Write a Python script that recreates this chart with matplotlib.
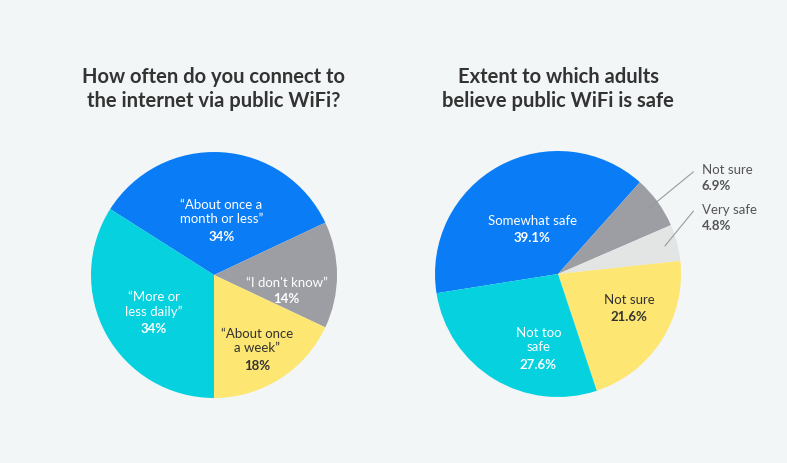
import matplotlib.pyplot as plt
import numpy as np

plt.rcParams['font.family'] = ['Lato', 'DejaVu Sans']

# left chart: how often people use public wifi
freq_labels = ['\u201cAbout once a\nmonth or less\u201d', '\u201cI don\'t know\u201d',
               '\u201cAbout once\na week\u201d', '\u201cMore or\nless daily\u201d']
freq_values = [34, 14, 18, 34]
freq_colors = ['#0a7df6', '#9c9ea4', '#fde672', '#05d1df']
freq_text = ['white', 'white', '#333333', 'white']

# right chart: how safe adults think public wifi is
safe_labels = ['Somewhat safe', 'Not sure', 'Very safe', 'Not sure', 'Not too\nsafe']
safe_values = [39.1, 6.9, 4.8, 21.6, 27.6]
safe_colors = ['#0a7df6', '#9c9ea4', '#e3e5e5', '#fde672', '#05d1df']
safe_text = ['white', None, None, '#333333', 'white']

bg = '#f3f6f7'
fig = plt.figure(figsize=(7.87, 4.64), dpi=100, facecolor=bg)

W, H = 787, 464
R = 123


def pie_axes(cx, cy):
    ax = fig.add_axes([(cx - R) / W, (H - cy - R) / H, 2 * R / W, 2 * R / H])
    ax.set_facecolor(bg)
    ax.set_xlim(-1, 1)
    ax.set_ylim(-1, 1)
    ax.axis('off')
    return ax


def draw_label(ax, name, pct, x, y, color, size=9.5):
    lines = name.count('\n') + 1
    step = 0.13
    top = y + step * lines / 2
    ax.text(x, top, name, ha='center', va='top', color=color, fontsize=size,
            linespacing=1.25)
    ax.text(x, top - step * lines - 0.005, pct, ha='center', va='top', color=color,
            fontsize=size, fontweight='bold')


# ---- left pie
ax1 = pie_axes(214, 276)
ax1.pie(freq_values, colors=freq_colors, startangle=147.6, counterclock=False,
        radius=1, center=(0, 0), frame=False)
ax1.set_xlim(-1, 1)
ax1.set_ylim(-1, 1)
freq_pos = [(0.06, 0.50), (0.59, -0.07), (0.35, -0.55), (-0.49, -0.25)]
for name, v, (x, y), c in zip(freq_labels, freq_values, freq_pos, freq_text):
    draw_label(ax1, name, f'{v}%', x, y, c)

# ---- right pie
ax2 = pie_axes(558, 275)
wedges, _ = ax2.pie(safe_values, colors=safe_colors, startangle=189, counterclock=False,
                    radius=1, center=(0, 0), frame=False)
ax2.set_xlim(-1, 1)
ax2.set_ylim(-1, 1)
safe_pos = {0: (-0.21, 0.42), 3: (0.58, -0.22), 4: (-0.16, -0.55)}
for i, (x, y) in safe_pos.items():
    draw_label(ax2, safe_labels[i], f'{safe_values[i]}%', x, y, safe_text[i])

# small slices get labels outside with leader lines
for i, ty in [(1, 0.90), (2, 0.58)]:
    w = wedges[i]
    mid = np.deg2rad((w.theta1 + w.theta2) / 2)
    ax2.plot([0.9 * np.cos(mid), 1.1], [0.9 * np.sin(mid), ty - 0.07],
             color='#9a9a9a', lw=0.8, clip_on=False)
    ax2.text(1.17, ty, safe_labels[i], ha='left', va='top', color='#555555',
             fontsize=9.5, clip_on=False)
    ax2.text(1.17, ty - 0.13, f'{safe_values[i]}%', ha='left', va='top', color='#555555',
             fontsize=9.5, fontweight='bold', clip_on=False)

# titles
fig.text(214 / W, 1 - 89 / H, 'How often do you connect to\nthe internet via public WiFi?',
         ha='center', va='center', fontsize=14.5, fontweight='bold', color='#333333',
         linespacing=1.25)
fig.text(558 / W, 1 - 89 / H, 'Extent to which adults\nbelieve public WiFi is safe',
         ha='center', va='center', fontsize=14.5, fontweight='bold', color='#333333',
         linespacing=1.25)

fig.savefig('out.png', dpi=100, facecolor=bg)
